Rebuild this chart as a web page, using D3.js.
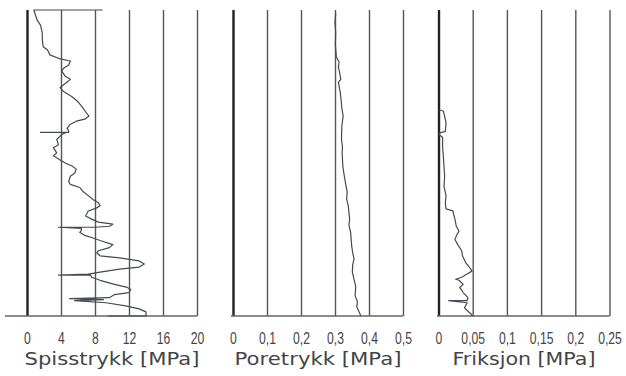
<!DOCTYPE html>
<html>
<head>
<meta charset="utf-8">
<script src="https://cdn.jsdelivr.net/npm/d3@7"></script>
<style>
	body { margin: 0; background: #fff; }
	svg { display: block; }
</style>
</head>
<body>
<script>
// depth in m (0 = top of sounding), values in MPa
const tipDepth = [0, 0, 1.0, 1.5, 2.3, 2.9, 3.6, 3.9, 4.4, 4.8, 5.0, 5.4, 5.7, 6.0, 6.5, 6.8, 7.2, 7.6, 8.0, 8.5,
	9.0, 9.4, 10.1, 10.4, 10.7, 10.9, 11.2, 11.6, 11.8, 12.0, 12.0, 12.0, 12.2, 12.7, 13.2, 13.5, 14.0, 14.3, 14.7, 15.0,
	15.3, 15.6, 16.0, 16.3, 16.8, 17.1, 17.4, 17.8, 18.2, 18.6, 18.9, 19.2, 19.4, 19.7, 20.2, 20.5, 20.8, 21.0, 21.2, 21.3,
	21.3, 21.4, 21.6, 21.8, 22.1, 22.3, 22.6, 23.0, 23.3, 23.6, 23.8, 24.1, 24.3, 24.6, 24.9, 25.2, 25.4, 25.7, 25.9, 26.0,
	26.0, 26.2, 26.5, 26.9, 27.2, 27.4, 27.7, 27.9, 28.2, 28.3, 28.4, 28.5, 28.7, 29.0, 29.3, 29.6, 29.8, 30.0, 30.0];
const tipValue = [8.9, 0.8, 1.2, 1.6, 1.8, 1.8, 1.9, 2.4, 2.7, 3.9, 5.1, 4.9, 4.3, 4.1, 4.5, 5.1, 4.5, 3.9, 4.3, 5.3,
	6.0, 6.4, 7.0, 7.3, 6.8, 5.8, 5.1, 4.7, 4.9, 4.9, 1.6, 4.6, 4.1, 3.5, 3.7, 3.1, 3.5, 3.1, 3.9, 4.5,
	5.3, 5.8, 5.6, 5.1, 4.9, 5.1, 6.2, 6.6, 7.2, 7.8, 8.4, 8.6, 8.2, 7.2, 6.9, 7.6, 8.4, 10.1, 9.7, 8.0,
	3.7, 6.4, 6.4, 6.2, 6.8, 7.6, 8.6, 10.1, 9.7, 8.4, 8.2, 8.6, 10.9, 13.2, 13.8, 13.2, 10.9, 8.6, 7.2, 3.7,
	7.5, 7.6, 8.6, 10.3, 11.8, 12.2, 12.0, 10.3, 9.7, 5.0, 9.0, 5.6, 9.3, 11.6, 13.2, 14.0, 14.0, 14.0, 9.5];

const poreDepth = [0.3, 1.2, 2.2, 3.4, 4.6, 5.1, 5.6, 6.2, 6.8, 7.1, 8.0, 8.8, 9.6, 10.4, 11.4, 12.7, 13.4, 14.0, 15.3, 16.0,
	16.6, 17.9, 18.5, 19.2, 20.5, 21.1, 21.8, 23.1, 23.8, 24.4, 25.0, 25.7, 26.4, 27.1, 28.0, 28.6, 29.1, 29.6, 30.0];
const poreValue = [0.302, 0.300, 0.302, 0.301, 0.304, 0.312, 0.310, 0.314, 0.317, 0.310, 0.315, 0.318, 0.320, 0.324, 0.320, 0.319, 0.322, 0.321, 0.323, 0.326,
	0.329, 0.336, 0.334, 0.339, 0.343, 0.341, 0.346, 0.349, 0.352, 0.356, 0.352, 0.351, 0.356, 0.361, 0.359, 0.366, 0.364, 0.371, 0.376];

const frictionDepth = [9.8, 9.9, 10.4, 11.1, 11.9, 12.05, 12.2, 12.5, 13.4, 14.3, 15.3, 16.3, 17.3, 18.2, 18.9, 19.5, 19.7, 20.0, 20.5, 21.2,
	21.7, 22.0, 22.5, 23.1, 23.6, 24.1, 24.8, 25.2, 25.6, 25.9, 26.2, 26.4, 26.5, 26.9, 27.2, 27.7, 28.2, 28.5, 28.5, 28.7,
	29.2, 29.7, 30.0];
const frictionValue = [0.001, 0.007, 0.009, 0.011, 0.010, 0.002, 0.001, 0.006, 0.006, 0.007, 0.008, 0.009, 0.008, 0.011, 0.010, 0.011, 0.021, 0.022, 0.024, 0.026,
	0.030, 0.027, 0.024, 0.029, 0.034, 0.035, 0.040, 0.045, 0.049, 0.041, 0.034, 0.025, 0.030, 0.036, 0.031, 0.036, 0.043, 0.042, 0.015, 0.042,
	0.038, 0.046, 0.050];

const tipTicks = [0, 4, 8, 12, 16, 20];
const poreTicks = [0, 0.1, 0.2, 0.3, 0.4, 0.5];
const frictionTicks = [0, 0.05, 0.1, 0.15, 0.2, 0.25];

const panelTitles = ['Spisstrykk [MPa]', 'Poretrykk [MPa]', 'Friksjon [MPa]'];

const width = 626;
const height = 376;
const yTop = 10;
const yBottom = 316;

const locale = d3.formatLocale({ decimal: ',', thousands: ' ', grouping: [3], currency: ['', ''] });
const fmt = locale.format('~g');

const svg = d3.select('body')
	.append('svg')
	.attr('width', width)
	.attr('height', height)
	.style('font-family', "'DejaVu Sans', sans-serif");

const yScale = d3.scaleLinear().domain([0, 30]).range([yTop, yBottom]);

const panels = [
	{ depth: tipDepth, value: tipValue, ticks: tipTicks, range: [27, 197], baseStart: 5, title: panelTitles[0], titleLen: 175 },
	{ depth: poreDepth, value: poreValue, ticks: poreTicks, range: [233, 403], baseStart: 231, title: panelTitles[1], titleLen: 167 },
	{ depth: frictionDepth, value: frictionValue, ticks: frictionTicks, range: [438.5, 609.5], baseStart: 437, title: panelTitles[2], titleLen: 143 }
];

panels.forEach(function (p) {
	const xScale = d3.scaleLinear()
		.domain([p.ticks[0], p.ticks[p.ticks.length - 1]])
		.range(p.range);

	const g = svg.append('g');

	// vertical grid lines + tick labels
	const axis = d3.axisBottom(xScale)
		.tickValues(p.ticks)
		.tickSize(-(yBottom - yTop))
		.tickFormat(fmt);

	const axisG = g.append('g')
		.attr('transform', 'translate(0,' + yBottom + ')')
		.call(axis);
	axisG.select('.domain').remove();
	axisG.selectAll('.tick line')
		.attr('stroke-width', function (d, i) { return i === 0 ? 2.4 : 1.4; })
		.attr('stroke', function (d, i) { return i === 0 ? '#222' : '#555'; });
	axisG.selectAll('.tick text')
		.attr('y', 28)
		.attr('dy', 0)
		.attr('fill', '#444')
		.style('font-size', '16px')
		.attr('transform', 'scale(0.76,1)');

	// base line
	g.append('line')
		.attr('x1', p.baseStart)
		.attr('x2', p.range[1])
		.attr('y1', yBottom)
		.attr('y2', yBottom)
		.attr('stroke', '#666')
		.attr('stroke-width', 1.4);

	// measured curve
	const pts = p.depth.map(function (d, i) { return [p.value[i], d]; });
	const line = d3.line()
		.x(function (d) { return xScale(d[0]); })
		.y(function (d) { return yScale(d[1]); });

	g.append('path')
		.datum(pts)
		.attr('d', line)
		.attr('fill', 'none')
		.attr('stroke', '#434a56')
		.attr('stroke-width', 1.2)
		.attr('stroke-linejoin', 'round');

	// axis title
	g.append('text')
		.attr('x', (p.range[0] + p.range[1]) / 2)
		.attr('y', 365)
		.attr('text-anchor', 'middle')
		.attr('fill', '#444')
		.style('font-size', '18px')
		.attr('textLength', p.titleLen)
		.attr('lengthAdjust', 'spacingAndGlyphs')
		.text(p.title);
});
</script>
</body>
</html>
